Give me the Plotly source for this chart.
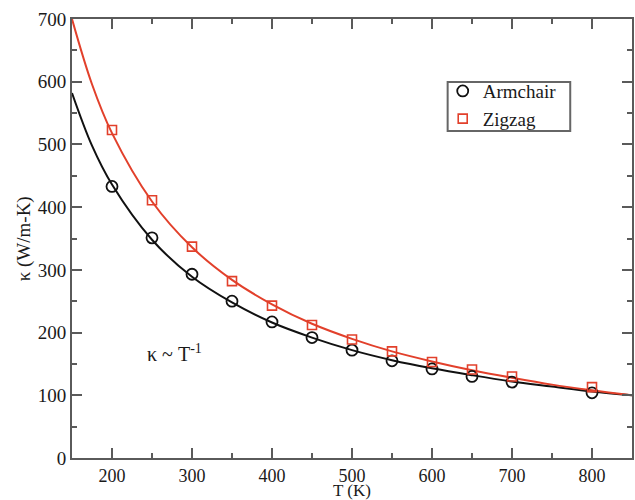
import plotly.graph_objects as go

# Measured thermal conductivity (W/m-K) versus temperature (K)
temps = [200, 250, 300, 350, 400, 450, 500, 550, 600, 650, 700, 800]
kappa_armchair = [433, 351, 293, 250, 217, 192, 172, 155, 142, 130, 121, 104]
kappa_zigzag = [523, 411, 337, 282, 243, 212, 189, 170, 153, 141, 130, 113]

# Smooth ~1/T trend curves drawn across the full temperature window
fit_temps = [150, 175, 200, 250, 300, 350, 400, 450, 500, 550, 600, 650, 700, 750, 800, 850]
fit_armchair = [582, 498, 436, 348, 289, 248, 216, 192, 172, 156, 143, 132, 122, 114, 106, 100]
fit_zigzag = [700, 596, 518, 409, 336, 284, 245, 214, 190, 170, 154, 140, 128, 117, 108, 100]

BLACK = "#111111"
RED = "#e2402b"
AXIS = "#5a5a5a"
TEXT = "#1a1a1a"
FONT = "Liberation Serif"

fig = go.Figure()

fig.add_trace(go.Scatter(x=fit_temps, y=fit_armchair, mode="lines",
                         line=dict(color=BLACK, width=2, shape="spline"),
                         showlegend=False, hoverinfo="skip"))
fig.add_trace(go.Scatter(x=fit_temps, y=fit_zigzag, mode="lines",
                         line=dict(color=RED, width=2, shape="spline"),
                         showlegend=False, hoverinfo="skip"))

fig.add_trace(go.Scatter(x=temps, y=kappa_armchair, mode="markers", name="Armchair",
                         marker=dict(symbol="circle-open", size=11, color=BLACK,
                                     line=dict(width=1.8, color=BLACK))))
fig.add_trace(go.Scatter(x=temps, y=kappa_zigzag, mode="markers", name="Zigzag",
                         marker=dict(symbol="square-open", size=9, color=RED,
                                     line=dict(width=1.6, color=RED))))

# Power-law note inside the plot
fig.add_annotation(x=241, y=167, xref="x", yref="y", xanchor="left", yanchor="middle",
                   text="κ ~ T<sup>-1</sup>", showarrow=False,
                   font=dict(family=FONT, size=20, color=TEXT))

# Axis titles placed close to the tick labels
fig.add_annotation(x=0.5, y=-0.073, xref="paper", yref="paper",
                   xanchor="center", yanchor="middle", showarrow=False,
                   text="T (K)", font=dict(family=FONT, size=17, color=TEXT))
fig.add_annotation(x=-0.086, y=0.5, xref="paper", yref="paper",
                   xanchor="center", yanchor="middle", showarrow=False, textangle=-90,
                   text="κ (W/m-K)", font=dict(family=FONT, size=19, color=TEXT))

# Frame drawn around the legend entries
fig.add_shape(type="rect", xref="paper", yref="paper",
              x0=0.6708, x1=0.8897, y0=0.7449, y1=0.8565,
              line=dict(color="#666666", width=2), layer="above")

axis_common = dict(
    showline=True, linecolor=AXIS, linewidth=2, mirror="ticks",
    ticks="inside", ticklen=10, tickwidth=2, tickcolor=AXIS,
    showgrid=False, zeroline=False,
)
minor_ticks = dict(dtick=50, ticks="inside", ticklen=5, tickwidth=2,
                   tickcolor=AXIS, showgrid=False)

fig.update_xaxes(range=[150, 850], dtick=100, tick0=0, minor=minor_ticks,
                 tickfont=dict(family=FONT, size=18, color=TEXT), **axis_common)
fig.update_yaxes(range=[0, 700], dtick=100, tick0=0, minor=minor_ticks,
                 tickfont=dict(family=FONT, size=19, color=TEXT), **axis_common)

fig.update_layout(
    width=635, height=500,
    margin=dict(l=72, r=1, t=19, b=42),
    paper_bgcolor="white", plot_bgcolor="white",
    legend=dict(x=0.662, y=0.879, xanchor="left", yanchor="top",
                borderwidth=0, bgcolor="rgba(0,0,0,0)",
                font=dict(family=FONT, size=19, color=TEXT),
                tracegroupgap=0, itemwidth=30),
)

fig.write_html("out.html")
